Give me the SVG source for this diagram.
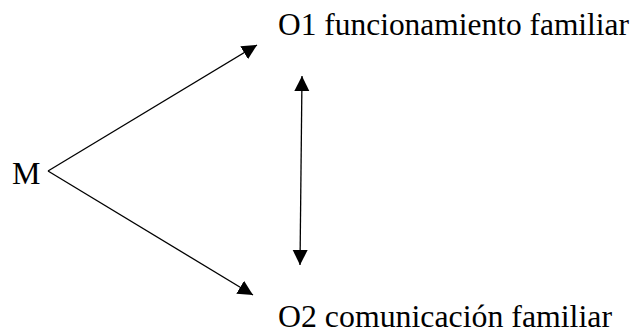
<svg xmlns="http://www.w3.org/2000/svg" width="634" height="334" viewBox="0 0 634 334">
<style>
text{font-family:"Liberation Serif","Times New Roman",serif;font-size:32px;fill:#000}
.c line{stroke:#000;stroke-width:1.3;fill:none}
</style>
<defs>
<marker id="ah" markerUnits="userSpaceOnUse" markerWidth="16" markerHeight="16" refX="15" refY="8" orient="auto-start-reverse" viewBox="0 0 16 16">
<path d="M0,0.5 L15,8 L0,15.5 z" fill="#000"/>
</marker>
</defs>
<g id="M"><text x="12" y="184">M</text></g>
<g id="O1"><text x="278" y="35" textLength="351" lengthAdjust="spacingAndGlyphs">O1 funcionamiento familiar</text></g>
<g id="O2"><text x="278" y="327" textLength="334" lengthAdjust="spacingAndGlyphs">O2 comunicación familiar</text></g>
<g class="c" id="connectors">
<line x1="48" y1="171" x2="257" y2="45" marker-end="url(#ah)"/>
<line x1="48" y1="171" x2="253" y2="295" marker-end="url(#ah)"/>
<line x1="302" y1="76" x2="300" y2="265" marker-start="url(#ah)" marker-end="url(#ah)"/>
</g>
</svg>
